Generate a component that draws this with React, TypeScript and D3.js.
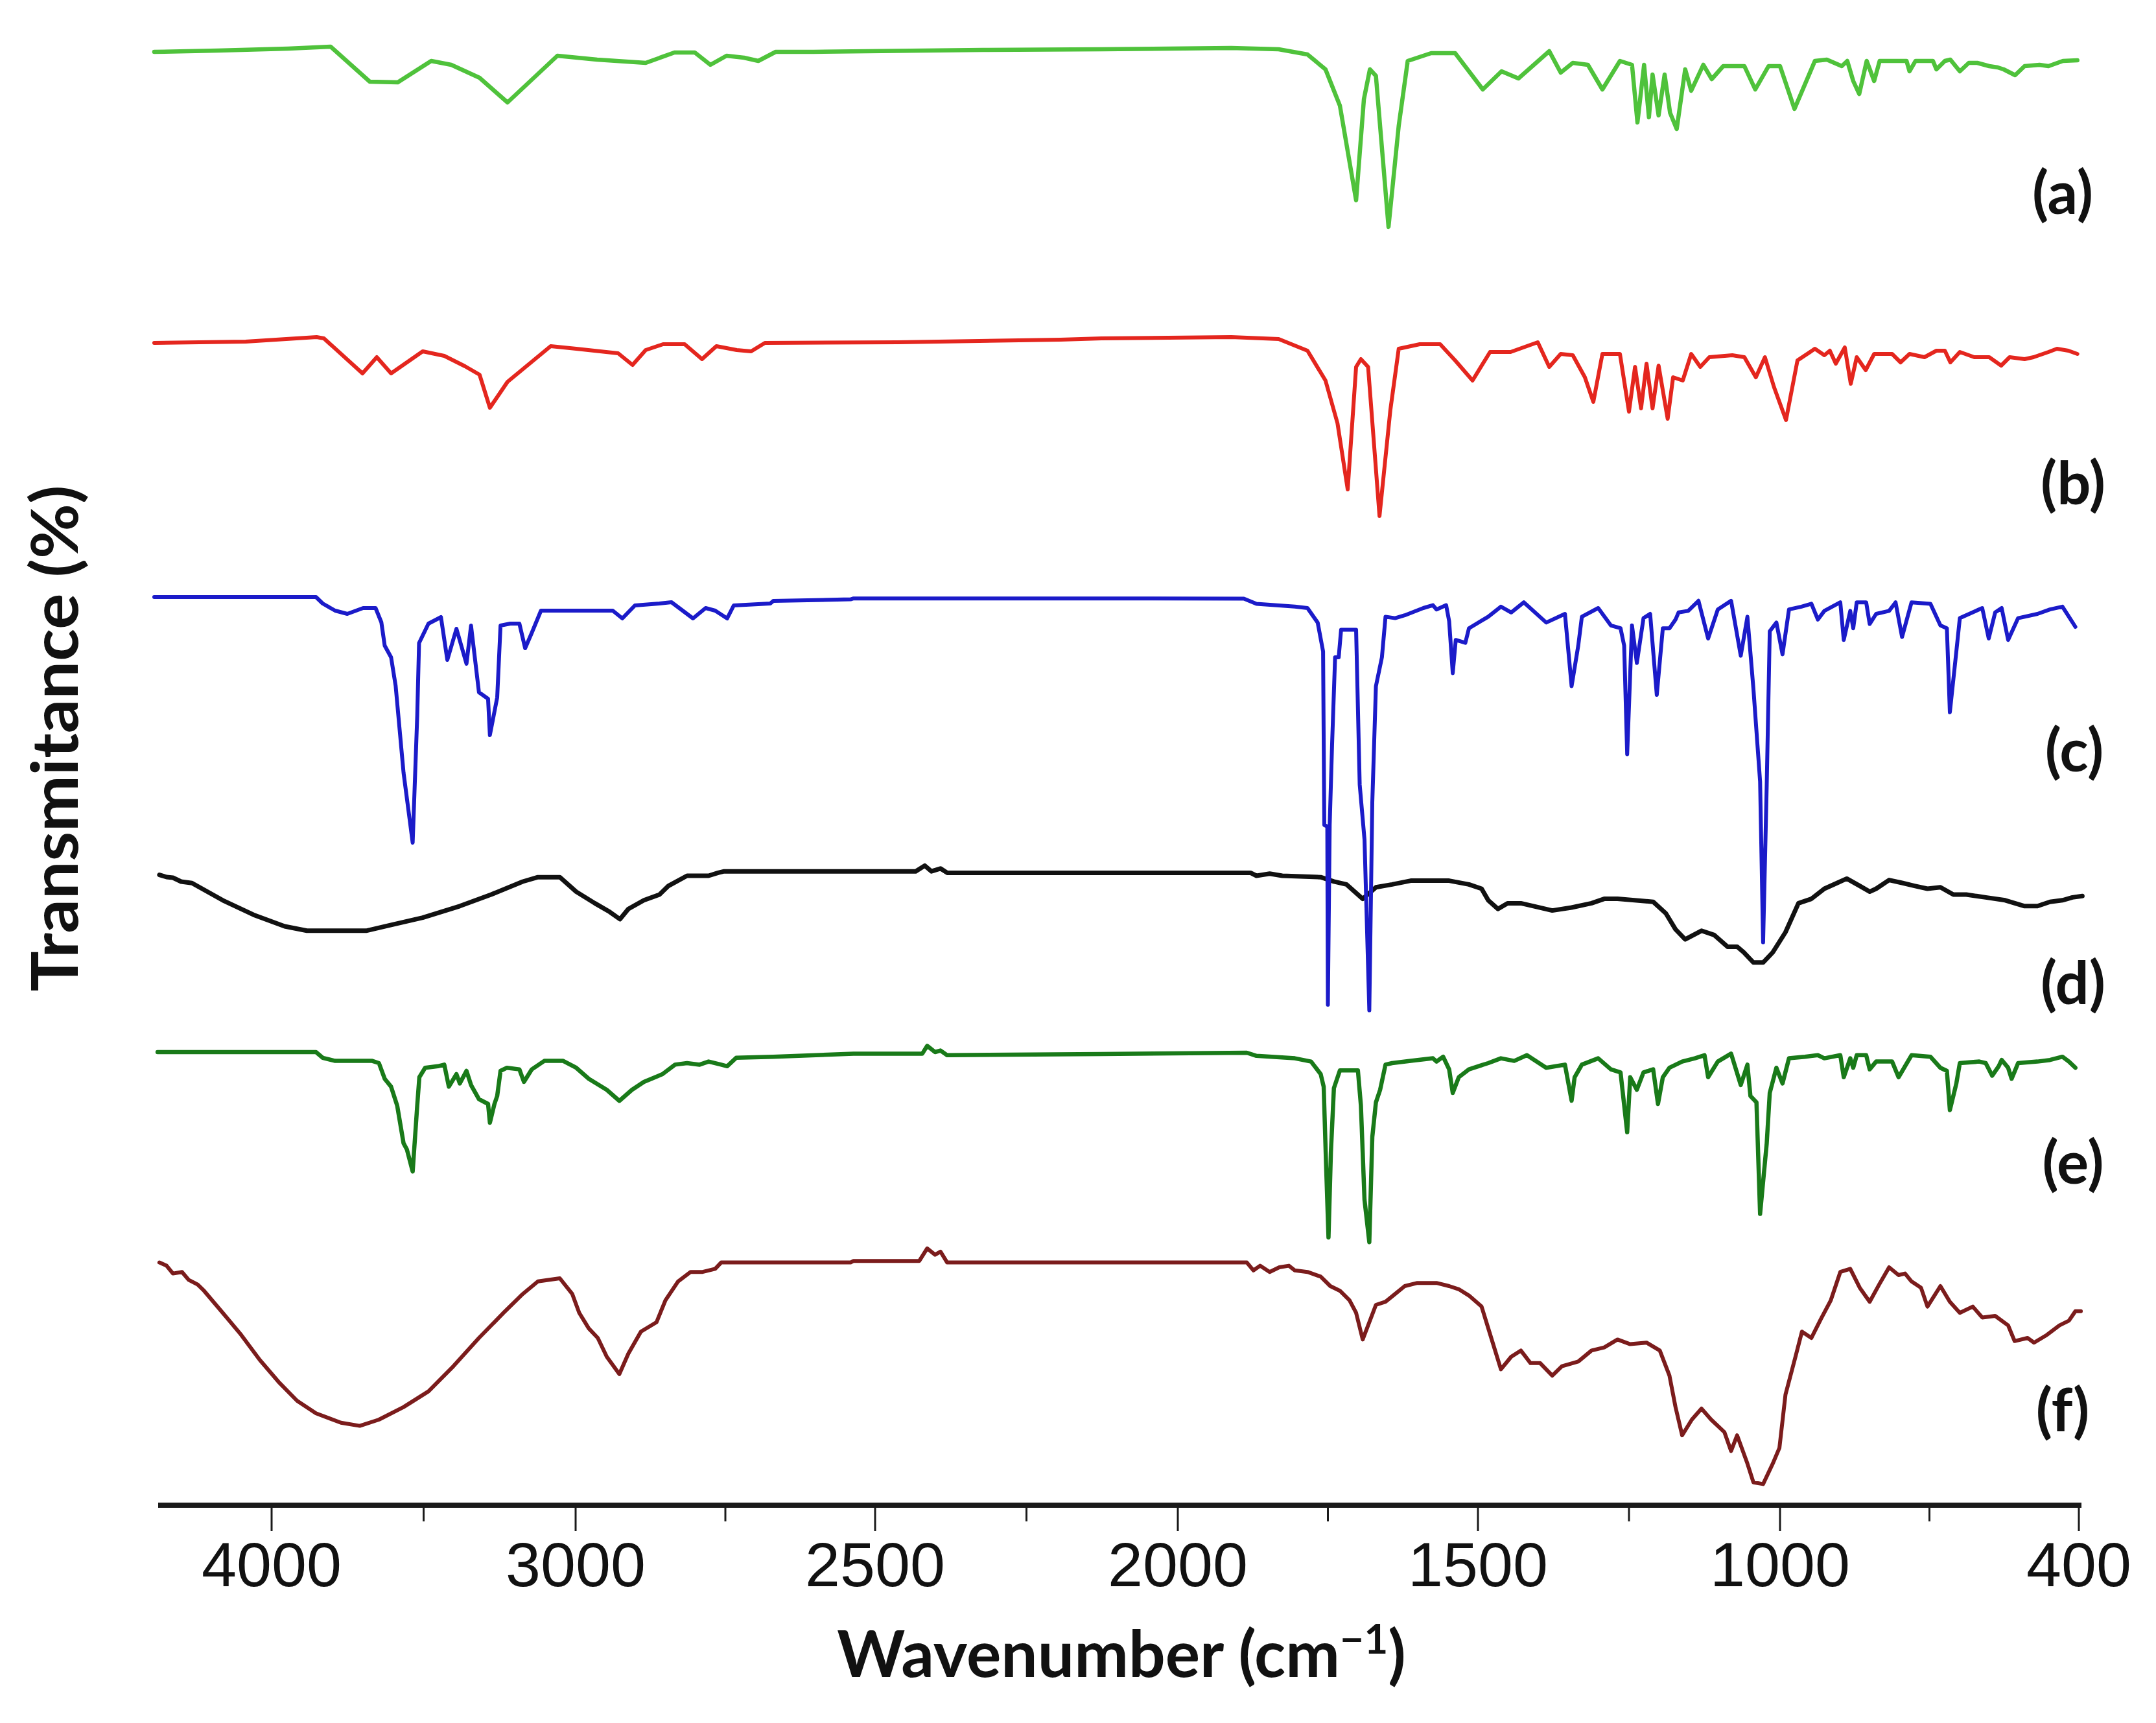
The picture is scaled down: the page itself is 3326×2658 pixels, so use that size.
import * as d3 from "d3";

// axis as printed: labels evenly spaced even though the steps differ
const WAVE_TICKS = [4000, 3000, 2500, 2000, 1500, 1000, 400];
const MINOR_TICKS = [3500, 2750, 2250, 1750, 1250, 700];
const LABELS = ["(a)", "(b)", "(c)", "(d)", "(e)", "(f)"];
const COLORS = ["#4fc23b", "#e4261e", "#1b1bc9", "#111111", "#197a19", "#7b1c1c"];

type Pt = [number, number];

// stacked transmittance (arbitrary offset units) vs wavenumber
const specA: Pt[] = [
  [4389,112.1],[4178,112.2],[3946,112.35],[3806,112.5],[3677,109.8],[3585,109.75],[3475,111.4],[3409,111.1],[3316,110.1],[3224,108.2],
  [3060,111.8],[2964,111.5],[2883,111.25],[2835,112.05],[2801,112.05],[2775,111.1],[2748,111.8],[2719,111.65],[2695,111.4],[2666,112.1],
  [2603,112.1],[2322,112.25],[2126,112.3],[1911,112.4],[1832,112.3],[1784,111.9],[1754,110.75],[1730,107.95],[1703,100.65],[1690,108.45],
  [1680,110.75],[1670,110.25],[1649,98.6],[1632,106.4],[1617,111.4],[1578,112.0],[1538,112.0],[1492,109.2],[1461,110.6],[1433,110.05],
  [1382,112.15],[1363,110.5],[1343,111.25],[1318,111.1],[1294,109.2],[1265,111.4],[1245,111.1],[1236,106.65],[1225,111.1],[1217,107.05],
  [1211,110.35],[1201,107.2],[1191,110.35],[1182,107.4],[1171,106.15],[1157,110.75],[1147,109.1],[1127,111.1],[1113,110.0],[1094,111.0],
  [1059,111.0],[1041,109.2],[1019,111.0],[1000,111.0],[971,107.7],[930,111.4],[906,111.5],[876,111.0],[865,111.4],[853,109.85],
  [841,108.85],[826,111.4],[811,109.85],[800,111.4],[746,111.4],[740,110.6],[728,111.4],[693,111.4],[686,110.75],[669,111.4],
  [658,111.5],[639,110.6],[621,111.25],[604,111.25],[580,111.0],[563,110.9],[551,110.75],[528,110.3],[509,111.0],[479,111.1],
  [461,111.0],[432,111.4],[403,111.45],
];

const specB: Pt[] = [
  [4389,89.65],[4086,89.75],[3852,90.1],[3828,90.0],[3701,87.3],[3654,88.55],[3607,87.3],[3503,89.0],[3432,88.65],[3364,87.85],
  [3316,87.2],[3282,84.65],[3224,86.65],[3082,89.4],[2999,89.2],[2929,88.85],[2905,87.95],[2883,89.1],[2854,89.55],[2818,89.55],
  [2789,88.4],[2765,89.4],[2731,89.1],[2707,89.0],[2684,89.65],[2462,89.7],[2194,89.9],[2126,90.0],[1911,90.1],[1832,89.95],
  [1784,89.05],[1754,86.75],[1734,83.45],[1717,78.35],[1703,87.8],[1695,88.4],[1683,87.8],[1664,76.3],[1646,84.45],[1632,89.2],
  [1597,89.55],[1563,89.55],[1538,88.3],[1509,86.75],[1480,88.95],[1446,88.95],[1401,89.7],[1382,87.8],[1363,88.8],[1343,88.7],
  [1323,87.0],[1309,85.1],[1294,88.8],[1265,88.8],[1250,84.35],[1240,87.8],[1230,84.6],[1221,88.05],[1211,84.6],[1201,87.9],
  [1186,83.8],[1177,87.0],[1161,86.75],[1147,88.8],[1132,87.8],[1117,88.55],[1079,88.7],[1059,88.55],[1040,87.0],[1025,88.55],
  [1010,86.25],[988,83.7],[965,88.3],[930,89.2],[911,88.7],[900,89.05],[888,88.05],[870,89.3],[858,86.5],[846,88.55],
  [828,87.55],[811,88.8],[775,88.8],[758,88.15],[740,88.8],[710,88.55],[686,89.05],[669,89.05],[658,88.15],[639,88.95],
  [610,88.55],[580,88.55],[556,87.9],[539,88.55],[509,88.4],[491,88.55],[461,88.95],[444,89.2],[421,89.05],[403,88.8],
];

const specC: Pt[] = [
  [4389,70.05],[3854,70.05],[3832,69.55],[3791,69.0],[3751,68.75],[3699,69.2],[3658,69.2],[3639,68.1],[3628,66.3],[3607,65.4],
  [3592,63.2],[3566,56.5],[3536,51.1],[3521,60.9],[3515,66.5],[3484,68.0],[3443,68.5],[3422,65.2],[3392,67.6],[3359,64.9],
  [3344,67.85],[3318,62.7],[3288,62.2],[3282,59.4],[3258,62.3],[3247,67.85],[3215,68.0],[3185,68.0],[3166,66.1],[3144,67.3],
  [3114,69.0],[2938,69.0],[2922,68.4],[2901,69.4],[2860,69.55],[2840,69.65],[2804,68.4],[2783,69.2],[2767,69.0],[2747,68.4],
  [2736,69.4],[2675,69.55],[2670,69.75],[2541,69.87],[2536,69.94],[2126,69.94],[1890,69.93],[1869,69.53],[1805,69.31],[1784,69.2],
  [1767,68.08],[1758,65.85],[1756,52.46],[1751,52.35],[1750,38.6],[1747,52.46],[1743,58.7],[1738,65.4],[1732,65.4],[1728,67.52],
  [1703,67.52],[1697,55.58],[1689,51.34],[1681,38.17],[1676,54.24],[1670,63.17],[1660,65.4],[1654,68.53],[1638,68.42],[1622,68.64],
  [1591,69.2],[1575,69.42],[1569,69.09],[1553,69.42],[1548,68.19],[1542,64.18],[1537,66.74],[1521,66.52],[1515,67.64],[1483,68.53],
  [1462,69.31],[1445,68.86],[1424,69.64],[1387,68.08],[1356,68.75],[1345,63.17],[1334,66.3],[1328,68.53],[1301,69.2],[1280,67.86],
  [1264,67.64],[1258,66.3],[1253,57.93],[1245,67.86],[1237,64.96],[1226,68.42],[1215,68.75],[1204,62.5],[1194,67.64],[1183,67.64],
  [1173,68.31],[1168,68.86],[1152,68.98],[1135,69.76],[1119,66.85],[1103,69.09],[1081,69.76],[1065,65.52],[1054,68.53],[1044,62.95],
  [1033,55.81],[1028,43.42],[1022,55.58],[1017,67.41],[1006,68.08],[995,65.63],[982,69.09],[957,69.31],[937,69.53],[924,68.31],
  [911,68.98],[879,69.64],[872,66.74],[859,68.98],[853,67.64],[846,69.64],[827,69.64],[820,67.97],[807,68.75],[781,68.98],
  [768,69.64],[755,66.97],[736,69.64],[698,69.53],[678,67.86],[665,67.64],[659,61.16],[646,65.85],[639,68.42],[607,68.98],
  [594,69.2],[581,66.85],[568,68.86],[555,69.2],[542,66.74],[522,68.42],[483,68.75],[458,69.09],[433,69.31],[420,68.53],
  [407,67.75],
];

const specD: Pt[] = [
  [4372,48.62],[4348,48.45],[4327,48.4],[4300,48.1],[4264,47.99],[4162,46.66],[4060,45.54],[3957,44.65],[3884,44.31],[3689,44.31],
  [3607,44.76],[3503,45.32],[3381,46.21],[3278,47.1],[3174,48.1],[3124,48.44],[3052,48.44],[2999,47.32],[2968,46.43],[2943,45.76],
  [2926,45.2],[2912,45.99],[2886,46.66],[2860,47.1],[2845,47.77],[2814,48.55],[2778,48.55],[2762,48.78],[2752,48.89],[2433,48.89],
  [2418,49.33],[2407,48.89],[2392,49.11],[2381,48.78],[2126,48.78],[1879,48.78],[1869,48.55],[1847,48.71],[1826,48.55],[1762,48.44],
  [1740,48.11],[1719,47.88],[1692,46.77],[1670,47.66],[1643,47.88],[1612,48.17],[1548,48.17],[1515,47.88],[1494,47.55],[1483,46.66],
  [1467,45.99],[1451,46.43],[1429,46.43],[1408,46.21],[1377,45.87],[1345,46.1],[1312,46.43],[1291,46.77],[1269,46.77],[1210,46.54],
  [1189,45.65],[1173,44.42],[1157,43.64],[1130,44.31],[1109,43.98],[1087,43.08],[1071,43.08],[1060,42.64],[1044,41.86],[1028,41.86],
  [1012,42.64],[989,44.2],[963,46.43],[937,46.77],[911,47.55],[885,48.0],[866,48.33],[840,47.77],[820,47.32],[807,47.55],
  [781,48.22],[755,48.0],[730,47.77],[704,47.55],[678,47.66],[652,47.1],[626,47.1],[587,46.88],[548,46.66],[509,46.21],
  [483,46.21],[458,46.54],[433,46.66],[413,46.88],[393,46.99],
];

const specE: Pt[] = [
  [4378,34.95],[3854,34.95],[3832,34.51],[3791,34.27],[3669,34.27],[3647,34.1],[3628,32.89],[3607,32.28],[3587,30.83],[3566,27.92],
  [3555,27.44],[3536,25.74],[3521,30.83],[3514,33.01],[3495,33.74],[3453,33.86],[3432,33.98],[3417,32.28],[3392,33.25],[3381,32.53],
  [3359,33.5],[3344,32.41],[3318,31.32],[3288,30.95],[3282,29.5],[3267,30.95],[3258,31.56],[3247,33.5],[3226,33.74],[3185,33.62],
  [3170,32.65],[3144,33.62],[3103,34.27],[3041,34.27],[2999,33.74],[2978,32.89],[2948,32.04],[2927,31.19],[2906,32.04],[2886,32.65],
  [2855,33.25],[2834,33.98],[2814,34.1],[2793,33.98],[2778,34.22],[2757,33.98],[2747,33.86],[2732,34.51],[2670,34.59],[2536,34.83],
  [2422,34.83],[2414,35.43],[2401,34.95],[2392,35.07],[2381,34.71],[2126,34.8],[1885,34.9],[1869,34.66],[1805,34.47],[1778,34.22],
  [1762,33.25],[1757,32.28],[1753,26.23],[1749,20.65],[1745,27.2],[1740,32.16],[1730,33.54],[1700,33.54],[1695,30.83],[1689,23.56],
  [1681,20.29],[1676,28.41],[1670,31.07],[1663,32.04],[1654,33.98],[1643,34.1],[1612,34.27],[1575,34.47],[1569,34.22],[1558,34.59],
  [1548,33.62],[1542,31.8],[1532,33.01],[1515,33.62],[1483,34.1],[1462,34.47],[1440,34.27],[1419,34.71],[1387,33.74],[1356,33.98],
  [1345,31.2],[1340,33.01],[1328,33.98],[1301,34.47],[1280,33.62],[1264,33.38],[1253,28.77],[1248,33.01],[1237,32.04],[1226,33.38],
  [1210,33.62],[1202,30.95],[1194,33.01],[1183,33.74],[1162,34.22],[1141,34.47],[1125,34.71],[1119,33.01],[1103,34.22],[1081,34.83],
  [1065,32.41],[1054,33.98],[1049,31.56],[1039,31.07],[1033,22.47],[1022,27.92],[1017,31.8],[1006,33.74],[995,32.53],[982,34.47],
  [950,34.59],[924,34.71],[911,34.47],[879,34.71],[872,33.01],[859,34.47],[853,33.74],[846,34.71],[827,34.71],[820,33.62],
  [807,34.22],[775,34.22],[762,33.01],[736,34.71],[698,34.59],[678,33.74],[665,33.5],[659,30.47],[646,32.53],[639,34.1],
  [600,34.22],[587,34.1],[574,33.13],[561,33.86],[555,34.34],[542,33.74],[535,32.89],[522,34.1],[483,34.22],[458,34.34],
  [433,34.59],[420,34.22],[407,33.74],
];

const specF: Pt[] = [
  [4372,18.72],[4348,18.47],[4327,17.87],[4297,17.99],[4275,17.38],[4245,17.02],[4224,16.54],[4162,14.84],[4101,13.14],[4039,11.2],
  [3977,9.51],[3916,8.05],[3854,7.09],[3772,6.36],[3710,6.12],[3647,6.6],[3566,7.57],[3484,8.78],[3402,10.72],[3318,12.9],
  [3237,14.84],[3174,16.29],[3124,17.26],[3052,17.5],[3011,16.29],[2994,14.84],[2978,13.63],[2963,12.9],[2948,11.45],[2927,10.11],
  [2912,11.69],[2891,13.39],[2865,14.11],[2850,15.81],[2829,17.26],[2808,17.99],[2788,17.99],[2767,18.23],[2757,18.72],[2710,18.72],
  [2541,18.72],[2536,18.84],[2427,18.84],[2414,19.81],[2401,19.32],[2392,19.56],[2381,18.72],[2126,18.72],[1885,18.72],[1874,18.11],
  [1863,18.47],[1847,17.99],[1831,18.35],[1815,18.47],[1805,18.11],[1784,17.99],[1762,17.63],[1746,16.9],[1730,16.54],[1714,15.81],
  [1703,14.84],[1692,12.78],[1681,14.11],[1670,15.45],[1654,15.69],[1638,16.29],[1622,16.9],[1601,17.14],[1569,17.14],[1548,16.9],
  [1532,16.66],[1515,16.17],[1494,15.32],[1478,12.9],[1462,10.48],[1445,11.45],[1429,11.93],[1413,10.96],[1397,10.96],[1377,9.99],
  [1361,10.72],[1334,11.08],[1312,11.93],[1291,12.17],[1269,12.78],[1248,12.42],[1221,12.54],[1199,11.93],[1183,9.99],[1173,7.57],
  [1162,5.39],[1146,6.6],[1130,7.45],[1114,6.6],[1092,5.63],[1081,4.18],[1071,5.39],[1054,3.21],[1044,1.76],[1028,1.63],
  [1012,3.21],[1001,4.42],[989,8.54],[969,11.45],[956,13.39],[937,12.9],[918,14.36],[898,15.81],[879,17.99],[859,18.23],
  [840,16.78],[820,15.69],[801,17.02],[781,18.35],[762,17.75],[749,17.87],[736,17.26],[717,16.78],[704,15.32],[678,16.9],
  [659,15.69],[639,14.84],[613,15.32],[594,14.48],[568,14.6],[542,13.87],[529,12.66],[503,12.9],[490,12.54],[464,13.14],
  [439,13.87],[420,14.23],[407,14.96],[396,14.96],
];

const SPECTRA = [specA, specB, specC, specD, specE, specF];

const W = 3326;
const H = 2658;
const AXIS_Y = 2322;

// piecewise x scale reproducing the uneven printed axis
const x = d3.scaleLinear<number>()
  .domain([4376, ...WAVE_TICKS])
  .range([244, 419, 888, 1350, 1817, 2280, 2746, 3207]);
const y = d3.scaleLinear().domain([0, 116]).range([AXIS_Y, 2]);

const line = d3.line<Pt>().x((d) => x(d[0])).y((d) => y(d[1]));

// label placement (centre x, baseline y) beside each trace
const LABEL_POS: [number, number][] = [
  [3182, 330], [3198, 778], [3200, 1190], [3198, 1549], [3198, 1826], [3182, 2208],
];
const STROKES = [6.5, 6, 6, 7, 6.5, 6];
const DRAW_ORDER = [0, 1, 3, 2, 4, 5];

export default function App() {
  return (
    <svg width={W} height={H} viewBox={`0 0 ${W} ${H}`}
      style={{ position: "absolute", left: 0, top: 0, background: "#fff" }}>
      <rect width={W} height={H} fill="#fff" />
      {DRAW_ORDER.map((i) => (
        <path key={i} d={line(SPECTRA[i]) ?? ""} fill="none" stroke={COLORS[i]}
          strokeWidth={STROKES[i]} strokeLinejoin="round" strokeLinecap="round" />
      ))}

      {/* x axis */}
      <line x1={x(4376)} x2={x(400) + 4} y1={AXIS_Y} y2={AXIS_Y} stroke="#1a1a1a" strokeWidth={8} />
      {WAVE_TICKS.map((t) => (
        <g key={t}>
          <line x1={x(t)} x2={x(t)} y1={AXIS_Y} y2={AXIS_Y + 40} stroke="#1a1a1a" strokeWidth={3} />
          <text x={x(t)} y={2447} textAnchor="middle" fontFamily="Liberation Sans, Arial, sans-serif"
            fontSize={97} fill="#111">{t}</text>
        </g>
      ))}
      {MINOR_TICKS.map((t) => (
        <line key={t} x1={x(t)} x2={x(t)} y1={AXIS_Y} y2={AXIS_Y + 25} stroke="#1a1a1a" strokeWidth={3} />
      ))}

      <text x={1730} y={2587} textAnchor="middle" fontFamily="Lato, Open Sans, sans-serif"
        fontWeight={700} fontSize={100} fill="#111">
        Wavenumber (cm<tspan dy={-36} fontSize={64}>−1</tspan><tspan dy={36}>)</tspan>
      </text>

      <text transform="translate(120,1139) rotate(-90)" textAnchor="middle"
        fontFamily="Lato, Open Sans, sans-serif" fontWeight={700} fontSize={99} fill="#111"
        textLength={781} lengthAdjust="spacingAndGlyphs">
        Transmitance (%)
      </text>

      {LABELS.map((l, i) => (
        <text key={l} x={LABEL_POS[i][0]} y={LABEL_POS[i][1]} textAnchor="middle"
          fontFamily="Lato, Open Sans, sans-serif" fontWeight={700} fontSize={92} fill="#111">
          {l}
        </text>
      ))}
    </svg>
  );
}
